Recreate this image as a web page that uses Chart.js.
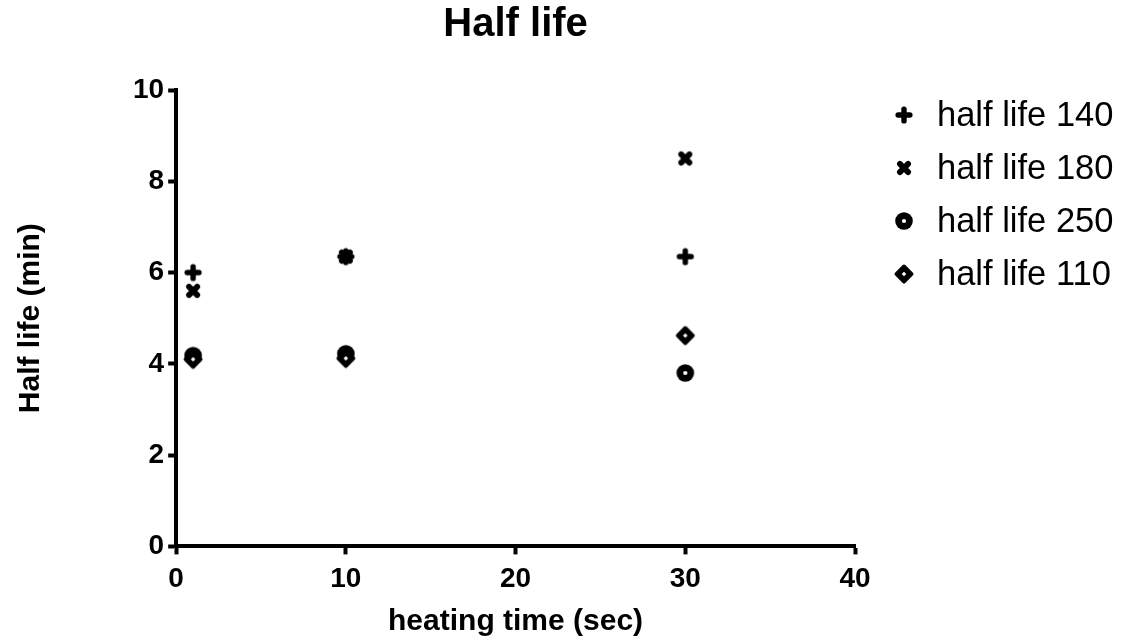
<!DOCTYPE html>
<html lang="en">
<head>
    <meta charset="UTF-8">
    <title>Half life</title>
    <script src="https://cdn.jsdelivr.net/npm/chart.js"></script>
    <style>
        html, body { margin: 0; padding: 0; background: #fff; }
        #wrap { width: 1124px; height: 640px; }
    </style>
</head>
<body>
    <div id="wrap"><canvas id="halfLifeChart"></canvas></div>

    <script>
        // data
        const chartTitle = 'Half life';
        const heatingTimes = [1, 10, 30];
        const halfLife140 = [6.0, 6.35, 6.35];
        const halfLife180 = [5.6, 6.35, 8.5];
        const halfLife250 = [4.18, 4.22, 3.8];
        const halfLife110 = [4.1, 4.12, 4.62];
        const seriesLabels = ['half life 140', 'half life 180', 'half life 250', 'half life 110'];
        const xTicks = [0, 10, 20, 30, 40];
        const yTicks = [0, 2, 4, 6, 8, 10];

        const FONT = "'Liberation Sans', Arial, Helvetica, sans-serif";

        function makeMarker(kind) {
            var c = document.createElement('canvas');
            c.width = 24; c.height = 24;
            var g = c.getContext('2d');
            var m = 12;
            g.fillStyle = '#000';
            g.strokeStyle = '#000';
            g.lineCap = 'round';
            g.lineJoin = 'round';
            if (kind === 'plus') {
                g.lineWidth = 5.4;
                g.beginPath();
                g.moveTo(m - 5.9, m); g.lineTo(m + 5.9, m);
                g.moveTo(m, m - 5.9); g.lineTo(m, m + 5.9);
                g.stroke();
            } else if (kind === 'cross') {
                g.lineWidth = 5.8;
                g.beginPath();
                g.moveTo(m - 4.1, m - 4.1); g.lineTo(m + 4.1, m + 4.1);
                g.moveTo(m + 4.1, m - 4.1); g.lineTo(m - 4.1, m + 4.1);
                g.stroke();
            } else if (kind === 'ring') {
                g.beginPath();
                g.arc(m, m, 8.8, 0, Math.PI * 2);
                g.fill();
                g.fillStyle = '#fff';
                g.beginPath();
                g.arc(m, m, 2.1, 0, Math.PI * 2);
                g.fill();
            } else {
                g.lineWidth = 3.8;
                g.beginPath();
                g.moveTo(m, m - 7.6); g.lineTo(m + 7.6, m);
                g.lineTo(m, m + 7.6); g.lineTo(m - 7.6, m);
                g.closePath();
                g.fill(); g.stroke();
                g.fillStyle = '#fff';
                g.beginPath();
                g.moveTo(m, m - 2.3); g.lineTo(m + 2.3, m);
                g.lineTo(m, m + 2.3); g.lineTo(m - 2.3, m);
                g.closePath();
                g.fill();
            }
            return c;
        }

        const markers = [makeMarker('plus'), makeMarker('cross'), makeMarker('ring'), makeMarker('diamond')];
        const seriesValues = [halfLife140, halfLife180, halfLife250, halfLife110];

        const datasets = seriesValues.map(function (vals, i) {
            return {
                label: seriesLabels[i],
                data: heatingTimes.map(function (t, j) { return { x: t, y: vals[j] }; }),
                pointStyle: markers[i],
                pointRadius: 9,
                pointHoverRadius: 9,
                showLine: false,
                order: 3 - i
            };
        });

        // title centred over the plot and legend on the right
        const sideLegend = {
            id: 'sideLegend',
            afterDraw: function (chart) {
                var ctx = chart.ctx;
                var area = chart.chartArea;
                ctx.save();
                ctx.fillStyle = '#000';
                ctx.textBaseline = 'middle';
                ctx.textAlign = 'center';
                ctx.font = 'bold 40px ' + FONT;
                ctx.fillText(chartTitle, (area.left + area.right) / 2, 25);

                ctx.textAlign = 'left';
                ctx.font = '34.5px ' + FONT;
                chart.data.datasets.forEach(function (ds, i) {
                    var y = 116 + i * 53;
                    var img = ds.pointStyle;
                    ctx.drawImage(img, 904 - img.width / 2, y - 1 - img.height / 2);
                    ctx.fillText(ds.label, 937, y);
                });
                ctx.restore();
            }
        };

        const ctx = document.getElementById('halfLifeChart').getContext('2d');
        const chart = new Chart(ctx, {
            type: 'scatter',
            data: { datasets: datasets },
            plugins: [sideLegend],
            options: {
                responsive: true,
                maintainAspectRatio: false,
                animation: false,
                layout: { padding: { left: 13, right: 269, top: 90, bottom: 0 } },
                plugins: {
                    legend: { display: false },
                    tooltip: { enabled: false },
                    title: { display: false }
                },
                scales: {
                    x: {
                        type: 'linear',
                        min: 0,
                        max: 40,
                        afterBuildTicks: function (axis) {
                            axis.ticks = xTicks.map(function (v) { return { value: v }; });
                        },
                        border: { display: true, color: '#000', width: 4 },
                        grid: { display: true, drawOnChartArea: false, drawTicks: true, tickLength: 8, tickWidth: 4, tickColor: '#000' },
                        ticks: { color: '#000', padding: 8, maxRotation: 0, font: { family: FONT, size: 28, weight: 'bold' } },
                        title: {
                            display: true,
                            text: 'heating time (sec)',
                            color: '#000',
                            font: { family: FONT, size: 30, weight: 'bold' },
                            padding: { top: 0, bottom: 0 }
                        }
                    },
                    y: {
                        type: 'linear',
                        min: 0,
                        max: 10,
                        afterBuildTicks: function (axis) {
                            axis.ticks = yTicks.map(function (v) { return { value: v }; });
                        },
                        border: { display: true, color: '#000', width: 4 },
                        grid: { display: true, drawOnChartArea: false, drawTicks: true, tickLength: 8, tickWidth: 4, tickColor: '#000' },
                        ticks: { color: '#000', padding: 4, font: { family: FONT, size: 28, weight: 'bold' } },
                        title: {
                            display: true,
                            text: 'Half life (min)',
                            color: '#000',
                            font: { family: FONT, size: 30, weight: 'bold' },
                            padding: { top: 0, bottom: 80 }
                        }
                    }
                }
            }
        });
    </script>
</body>
</html>
